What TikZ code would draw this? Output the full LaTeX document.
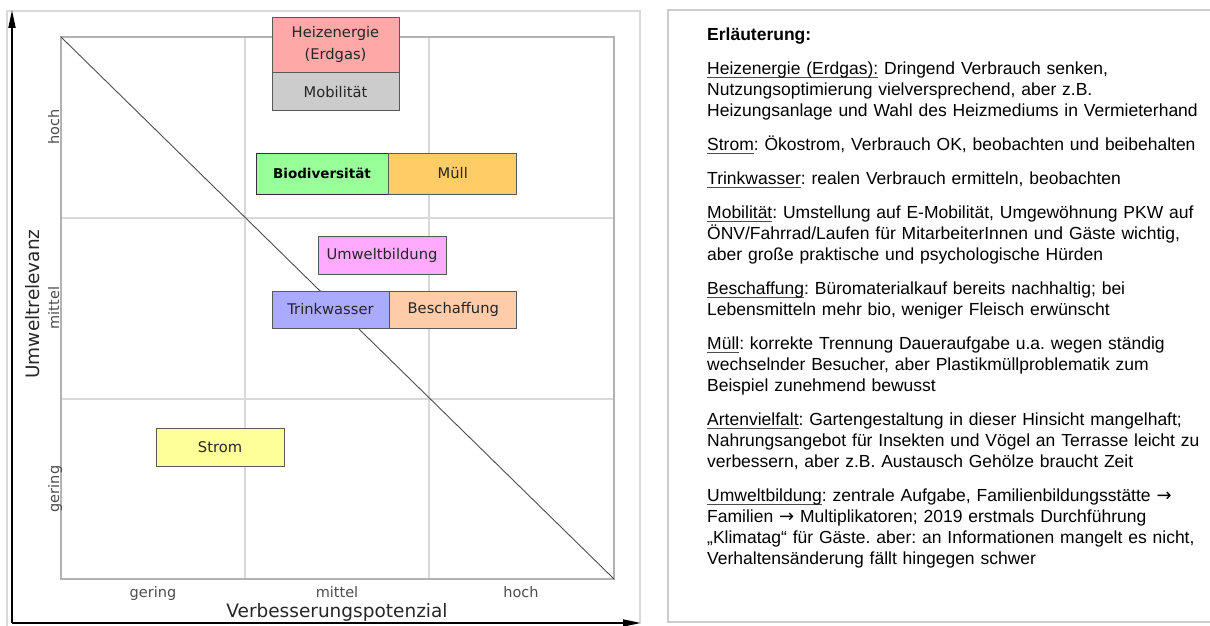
\documentclass[tikz,border=0pt]{standalone}
\usepackage{fontspec}
\newfontfamily\chartfont{DejaVu Sans}
\newfontfamily\notefont{Liberation Sans}
\usetikzlibrary{positioning, arrows.meta}
\definecolor{heizcol}{HTML}{FFA8A8}
\definecolor{mobcol}{HTML}{CCCCCC}
\definecolor{biocol}{HTML}{99FF99}
\definecolor{muellcol}{HTML}{FFCC66}
\definecolor{umwcol}{HTML}{FFAAFF}
\definecolor{trinkcol}{HTML}{AAAAFF}
\definecolor{beschcol}{HTML}{FFCCAA}
\definecolor{stromcol}{HTML}{FFFF99}
\newcommand{\lbl}[1]{\leavevmode\setbox0\hbox{#1}\rlap{\color{black!70}\rule[-2.6pt]{\wd0}{0.9pt}}\box0\relax}
\newcommand{\arr}{{\chartfont\fontsize{18}{21}\selectfont →}}

\begin{document}
\begin{tikzpicture}[x=1pt, y=-1pt,
  field/.style={draw=black!65, line width=0.8pt, minimum width=127pt, minimum height=38pt,
    inner sep=0pt, align=center, text=black!85, font=\chartfont\fontsize{14.7}{22}\selectfont},
  tick/.style={anchor=base, text=black!70, font=\chartfont\fontsize{14.5}{17}\selectfont},
  axistitle/.style={anchor=base, text=black!85, font=\chartfont\fontsize{18.5}{22}\selectfont},
  gridline/.style={black!15, line width=1.3pt},
  axis/.style={line width=1.8pt, -{Triangle[length=18pt, width=7pt]}},
  notes/.style={anchor=north west, inner sep=0pt, text width=520pt, align=left,
    font=\notefont\fontsize{17.5}{21}\selectfont}]
  \useasboundingbox (0,0) rectangle (1210,626);

  % panel frames
  \draw[black!15, line width=1.2pt] (7,630) -- (7,11) -- (640,11) -- (640,623);
  \draw[black!20, line width=1.5pt] (668,10) rectangle (1220,622);

  % grid
  \foreach \x in {245,429} \draw[gridline] (\x,37) -- (\x,579);
  \foreach \y in {218,399} \draw[gridline] (61,\y) -- (614,\y);
  \draw[gridline, black!30] (61,37) rectangle (614,579);

  % diagonal
  \coordinate (tl) at (61,37);
  \coordinate (br) at (614,579);
  \draw[black!70, line width=0.9pt] (tl) -- (br);

  % axes
  \coordinate (origin) at (12,623);
  \coordinate (ytop) at (12,10);
  \coordinate (xend) at (641,623);
  \draw[axis] (origin) -- (ytop);
  \draw[axis] (origin) -- (xend);

  % fields
  \node[field, fill=heizcol, minimum height=55pt] (heiz) at (335.5,44.5) {Heizenergie\\(Erdgas)};
  \node[field, fill=mobcol, below=0pt of heiz] (mob) {Mobilität};
  \node[field, fill=biocol, draw=black!80, text=black, minimum width=132pt, minimum height=41pt,
    font=\chartfont\bfseries\fontsize{13.5}{16}\selectfont] (bio) at (322,173.5) {Biodiversität};
  \node[field, fill=muellcol, minimum width=128pt, minimum height=41pt, right=0pt of bio] (muell) {Müll};
  \node[field, fill=umwcol, minimum width=128pt] (umw) at (382,255) {Umweltbildung};
  \node[field, fill=trinkcol, minimum width=117pt, minimum height=37pt] (trink) at (330.5,309.5) {Trinkwasser};
  \node[field, fill=beschcol, minimum height=37pt, right=0pt of trink] (besch) {Beschaffung};
  \node[field, fill=stromcol, minimum width=128pt] (strom) at (220,447) {Strom};

  % axis labels
  \foreach \x/\t in {153/gering, 337/mittel, 521/hoch}
    \node[tick] (col-\t) at (\x,597) {\t};
  \foreach \y/\t in {127/hoch, 308/mittel, 489/gering}
    \node[tick, rotate=90] (row-\t) at (59,\y) {\t};
  \node[axistitle] (xtitle) at (337,617) {Verbesserungspotenzial};
  \node[axistitle, rotate=90] (ytitle) at (39,304) {Umweltrelevanz};

  % notes
  \node[notes] (expl) at (707,28) {\frenchspacing\setlength{\parskip}{13pt}%
    \textbf{Erläuterung:}\par
    \lbl{Heizenergie (Erdgas):} Dringend Verbrauch senken,\\
    Nutzungsoptimierung vielversprechend, aber z.B.\\
    Heizungsanlage und Wahl des Heizmediums in Vermieterhand\par
    \lbl{Strom}: Ökostrom, Verbrauch OK, beobachten und beibehalten\par
    \lbl{Trinkwasser}: realen Verbrauch ermitteln, beobachten\par
    \lbl{Mobilität}: Umstellung auf E-Mobilität, Umgewöhnung PKW auf\\
    ÖNV/Fahrrad/Laufen für MitarbeiterInnen und Gäste wichtig,\\
    aber große praktische und psychologische Hürden\par
    \lbl{Beschaffung}: Büromaterialkauf bereits nachhaltig; bei\\
    Lebensmitteln mehr bio, weniger Fleisch erwünscht\par
    \lbl{Müll}: korrekte Trennung Daueraufgabe u.a. wegen ständig\\
    wechselnder Besucher, aber Plastikmüllproblematik zum\\
    Beispiel zunehmend bewusst\par
    \lbl{Artenvielfalt}: Gartengestaltung in dieser Hinsicht mangelhaft;\\
    Nahrungsangebot für Insekten und Vögel an Terrasse leicht zu\\
    verbessern, aber z.B. Austausch Gehölze braucht Zeit\par
    \lbl{Umweltbildung}: zentrale Aufgabe, Familienbildungsstätte \arr\\
    Familien \arr{} Multiplikatoren; 2019 erstmals Durchführung\\
    „Klimatag“ für Gäste. aber: an Informationen mangelt es nicht,\\
    Verhaltensänderung fällt hingegen schwer};
\end{tikzpicture}
\end{document}
